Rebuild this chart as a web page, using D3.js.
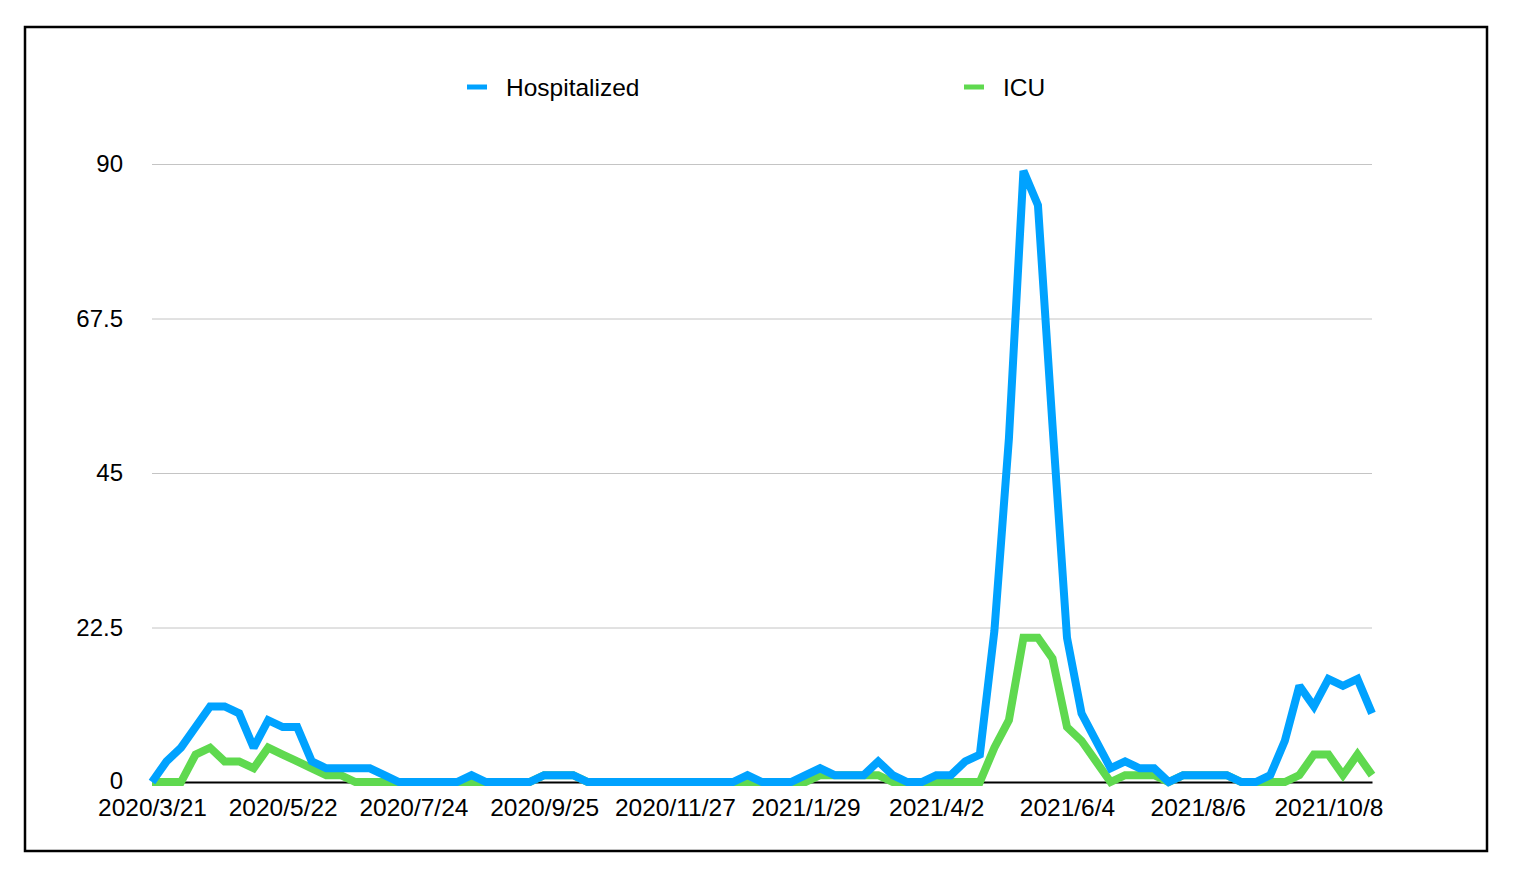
<!DOCTYPE html>
<html>
<head>
<meta charset="utf-8">
<script src="https://cdn.jsdelivr.net/npm/d3@7"></script>
<style>
  html, body { margin: 0; padding: 0; background: #fff; }
  svg { display: block; font-family: "Liberation Sans", Arial, Helvetica, sans-serif; }
</style>
</head>
<body>
<svg id="chart" width="1514" height="876"></svg>
<script>
// ---- data ----
const categories = [
  "2020/3/21","2020/3/27","2020/4/3","2020/4/10","2020/4/17","2020/4/24","2020/5/1","2020/5/8","2020/5/15",
  "2020/5/22","2020/5/29","2020/6/5","2020/6/12","2020/6/19","2020/6/26","2020/7/3","2020/7/10","2020/7/17",
  "2020/7/24","2020/7/31","2020/8/7","2020/8/14","2020/8/21","2020/8/28","2020/9/4","2020/9/11","2020/9/18",
  "2020/9/25","2020/10/2","2020/10/9","2020/10/16","2020/10/23","2020/10/30","2020/11/6","2020/11/13","2020/11/20",
  "2020/11/27","2020/12/4","2020/12/11","2020/12/18","2020/12/25","2021/1/1","2021/1/8","2021/1/15","2021/1/22",
  "2021/1/29","2021/2/5","2021/2/12","2021/2/19","2021/2/26","2021/3/5","2021/3/12","2021/3/19","2021/3/26",
  "2021/4/2","2021/4/9","2021/4/16","2021/4/23","2021/4/30","2021/5/7","2021/5/14","2021/5/21","2021/5/28",
  "2021/6/4","2021/6/11","2021/6/18","2021/6/25","2021/7/2","2021/7/9","2021/7/16","2021/7/23","2021/7/30",
  "2021/8/6","2021/8/13","2021/8/20","2021/8/27","2021/9/3","2021/9/10","2021/9/17","2021/9/24","2021/10/1",
  "2021/10/8","2021/10/15","2021/10/22","2021/10/29"
];
const hospitalized = [
  0,3,5,8,11,11,10,5,9,
  8,8,3,2,2,2,2,1,0,
  0,0,0,0,1,0,0,0,0,
  1,1,1,0,0,0,0,0,0,
  0,0,0,0,0,1,0,0,0,
  1,2,1,1,1,3,1,0,0,
  1,1,3,4,22,50,89,84,52,
  21,10,6,2,3,2,2,0,1,
  1,1,1,0,0,1,6,14,11,
  15,14,15,10
];
const icu = [
  0,0,0,4,5,3,3,2,5,
  4,3,2,1,1,0,0,0,0,
  0,0,0,0,0,0,0,0,0,
  1,1,1,0,0,0,0,0,0,
  0,0,0,0,0,0,0,0,0,
  0,1,1,1,1,1,0,0,0,
  0,0,0,0,5,9,21,21,18,
  8,6,3,0,1,1,1,0,1,
  1,1,1,0,0,0,0,1,4,
  4,1,4,1
];
const xTickLabels = ["2020/3/21","2020/5/22","2020/7/24","2020/9/25","2020/11/27","2021/1/29","2021/4/2","2021/6/4","2021/8/6","2021/10/8"];
const yTickValues = [0, 22.5, 45, 67.5, 90];
const seriesNames = ["Hospitalized", "ICU"];
const seriesColors = ["#00A2FF", "#5FD94F"];

// ---- layout ----
const svg = d3.select("#chart");
const plotLeft = 152, plotRight = 1372, plotTop = 164, plotBottom = 782;
const fontFam = "\"Liberation Sans\", Arial, sans-serif";

svg.append("rect")
  .attr("x", 25).attr("y", 27).attr("width", 1462).attr("height", 824)
  .attr("fill", "none").attr("stroke", "#000").attr("stroke-width", 2.5);

const x = d3.scalePoint().domain(categories).range([plotLeft, plotRight]);
const y = d3.scaleLinear().domain([0, 90]).range([plotBottom, plotTop]);

// y grid + labels
const yAxis = svg.append("g")
  .attr("transform", `translate(${plotLeft},0)`)
  .call(d3.axisLeft(y).tickValues(yTickValues).tickFormat(d3.format("~g"))
    .tickSize(-(plotRight - plotLeft)).tickPadding(29));
yAxis.select(".domain").remove();
yAxis.selectAll(".tick line").attr("stroke", "#c4c4c4").attr("stroke-width", 1);
yAxis.selectAll(".tick text").attr("font-size", 24).attr("fill", "#000").attr("font-family", fontFam);
yAxis.selectAll(".tick").filter(d => d === 0).select("line").remove();
yAxis.selectAll(".tick").filter(d => d === 0).select("text").attr("dy", "0.28em");

// x axis
const xAxis = svg.append("g")
  .attr("transform", `translate(0,${plotBottom})`)
  .call(d3.axisBottom(x).tickValues(xTickLabels).tickSize(0).tickSizeOuter(0).tickPadding(17));
xAxis.select(".domain").attr("stroke", "#000").attr("stroke-width", 2);
xAxis.selectAll(".tick text").attr("font-size", 24.5).attr("fill", "#000").attr("font-family", fontFam);

// lines (ICU first, Hospitalized on top)
const line = d3.line().x((d, i) => x(categories[i])).y(d => y(d));
[[icu, seriesColors[1]], [hospitalized, seriesColors[0]]].forEach(([vals, color]) => {
  svg.append("path")
    .datum(vals)
    .attr("d", line)
    .attr("fill", "none")
    .attr("stroke", color)
    .attr("stroke-width", 8)
    .attr("stroke-linejoin", "miter")
    .attr("stroke-miterlimit", 2);
});

// legend
const legendItems = [
  { name: seriesNames[0], color: seriesColors[0], x: 467 },
  { name: seriesNames[1], color: seriesColors[1], x: 964 }
];
const lg = svg.append("g");
legendItems.forEach(it => {
  lg.append("line").attr("x1", it.x).attr("x2", it.x + 20).attr("y1", 87).attr("y2", 87)
    .attr("stroke", it.color).attr("stroke-width", 5);
  lg.append("text").attr("x", it.x + 39).attr("y", 96)
    .attr("font-size", 24.5).attr("fill", "#000").attr("font-family", fontFam).text(it.name);
});
</script>
</body>
</html>
